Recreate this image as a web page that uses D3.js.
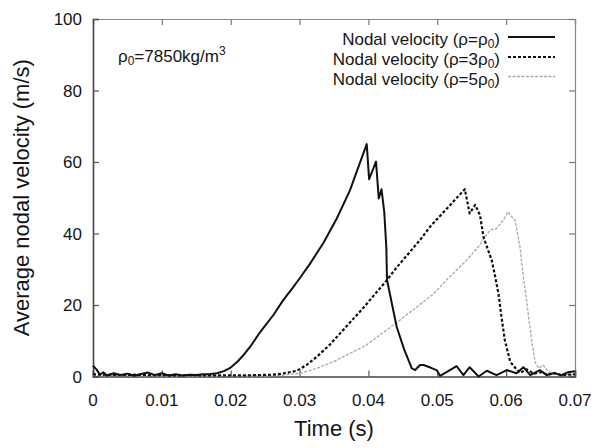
<!DOCTYPE html>
<html><head><meta charset="utf-8">
<script src="https://cdn.jsdelivr.net/npm/d3@7"></script>
<style>
html,body{margin:0;padding:0;background:#fff;}
svg text{font-family:"Liberation Sans",Arial,Helvetica,sans-serif;fill:#151515;}
</style></head>
<body><svg id="chart" width="597" height="448"></svg>
<script>
// ---- data ----
const xTicks = [0, 0.01, 0.02, 0.03, 0.04, 0.05, 0.06, 0.07];
const xTickLabels = ["0", "0.01", "0.02", "0.03", "0.04", "0.05", "0.06", "0.07"];
const yTicks = [0, 20, 40, 60, 80, 100];
const yTickLabels = ["0", "20", "40", "60", "80", "100"];
const seriesNames = ["Nodal velocity (ρ=ρ0)", "Nodal velocity (ρ=3ρ0)", "Nodal velocity (ρ=5ρ0)"];

const t1 = [0, 0.0005, 0.001, 0.0015, 0.002, 0.003, 0.004, 0.005, 0.006, 0.007, 0.008, 0.009, 0.010, 0.011, 0.012, 0.013, 0.014, 0.015, 0.016, 0.017, 0.018, 0.019, 0.020, 0.021, 0.022, 0.023, 0.0243, 0.0262, 0.0276, 0.029, 0.0301, 0.0315, 0.0335, 0.0354, 0.0373, 0.03975, 0.0401, 0.0411, 0.0415, 0.0419, 0.0423, 0.0426, 0.0427, 0.0441, 0.0452, 0.0463, 0.0468, 0.0475, 0.048, 0.049, 0.0499, 0.0504, 0.0514, 0.0528, 0.0538, 0.0547, 0.056, 0.0572, 0.0586, 0.0601, 0.0615, 0.0625, 0.0635, 0.0649, 0.0659, 0.067, 0.068, 0.069, 0.07];
const v1 = [3.0, 2.0, 0.5, 1.2, 0.3, 0.9, 0.4, 0.8, 0.2, 0.7, 1.1, 0.4, 0.9, 0.3, 0.6, 0.3, 0.5, 0.4, 0.6, 0.7, 0.9, 1.5, 2.5, 4.2, 6.3, 8.8, 12.5, 17.2, 21.3, 24.8, 27.7, 31.5, 37.5, 44.2, 52.0, 65.0, 55.2, 60.1, 49.8, 52.4, 46.0, 36.0, 27.0, 13.9, 7.5, 2.3, 1.8, 3.2, 3.2, 2.5, 1.8, 0.2, 1.3, 2.9, 0.4, 2.6, 0.0, 1.6, 0.4, 1.8, 0.9, 2.6, 0.4, 1.8, 0.4, 1.0, 0.3, 1.2, 1.5];

const t2 = [0, 0.002, 0.004, 0.006, 0.008, 0.010, 0.012, 0.014, 0.016, 0.018, 0.020, 0.022, 0.024, 0.026, 0.0275, 0.0296, 0.031, 0.0325, 0.0345, 0.0359, 0.0393, 0.0427, 0.0441, 0.0475, 0.049, 0.0515, 0.054, 0.0547, 0.0555, 0.0562, 0.0567, 0.0572, 0.0579, 0.0584, 0.0589, 0.0593, 0.0598, 0.0606, 0.0615, 0.062, 0.063, 0.064, 0.065, 0.066, 0.067, 0.068, 0.07];
const v2 = [0.6, 0.5, 0.4, 0.5, 0.4, 0.4, 0.3, 0.4, 0.3, 0.3, 0.3, 0.3, 0.4, 0.5, 0.8, 1.6, 3.2, 5.5, 9.1, 12.1, 19.3, 27.0, 30.5, 38.2, 42.0, 47.2, 52.4, 45.6, 48.0, 45.2, 39.1, 36.3, 32.6, 28.0, 23.0, 17.0, 10.2, 4.1, 2.0, 1.0, 2.0, 0.8, 1.2, 0.5, 0.9, 0.4, 0.6];

const t3 = [0, 0.005, 0.010, 0.015, 0.020, 0.025, 0.027, 0.0301, 0.0325, 0.0349, 0.0397, 0.0446, 0.0494, 0.0518, 0.054, 0.0562, 0.0567, 0.0577, 0.0586, 0.0595, 0.0603, 0.0608, 0.0613, 0.062, 0.0625, 0.0632, 0.0637, 0.0642, 0.0647, 0.0654, 0.0661, 0.067, 0.068, 0.07];
const v3 = [0.3, 0.3, 0.2, 0.2, 0.2, 0.2, 0.3, 0.9, 2.3, 4.1, 8.8, 15.8, 23.0, 27.9, 32.0, 36.8, 38.5, 41.0, 41.4, 43.5, 46.1, 44.7, 43.8, 36.3, 27.9, 17.7, 10.2, 4.1, 2.3, 3.2, 1.3, 0.8, 0.6, 0.5];

// ---- layout ----
const svg = d3.select("#chart");
const L = 93, R = 575, T = 19, B = 376.5;
const x = d3.scaleLinear().domain([0, 0.07]).range([L, R]);
const y = d3.scaleLinear().domain([0, 100]).range([B, T]);

// mirrored inward ticks
const tickLen = 6;
const gTop = svg.append("g").attr("transform", `translate(0,${T})`)
  .call(d3.axisBottom(x).tickValues(xTicks).tickSize(tickLen).tickFormat(""));
const gRight = svg.append("g").attr("transform", `translate(${R},0)`)
  .call(d3.axisLeft(y).tickValues(yTicks).tickSize(tickLen).tickFormat(""));
[gTop, gRight].forEach(g => { g.select(".domain").attr("stroke", "#888").attr("stroke-width", 1.2); g.selectAll(".tick line").attr("stroke", "#777").attr("stroke-width", 1.2); });

const gBottom = svg.append("g").attr("transform", `translate(0,${B})`)
  .call(d3.axisTop(x).tickValues(xTicks).tickSize(tickLen).tickFormat(""));
const gLeft = svg.append("g").attr("transform", `translate(${L},0)`)
  .call(d3.axisRight(y).tickValues(yTicks).tickSize(tickLen).tickFormat(""));
[gBottom, gLeft].forEach(g => { g.select(".domain").attr("stroke", "#444").attr("stroke-width", 1.6); g.selectAll(".tick line").attr("stroke", "#555").attr("stroke-width", 1.2); });

// tick labels
svg.append("g").selectAll("text").data(xTicks).join("text")
  .attr("x", d => x(d)).attr("y", 406).attr("text-anchor", "middle")
  .attr("font-size", 17).text((d, i) => xTickLabels[i]);
svg.append("g").selectAll("text").data(yTicks).join("text")
  .attr("x", 82).attr("y", d => y(d) + 6).attr("text-anchor", "end")
  .attr("font-size", 17).text((d, i) => yTickLabels[i]);

// axis titles
svg.append("text").attr("x", (L + R) / 2).attr("y", 436).attr("text-anchor", "middle")
  .attr("font-size", 22).text("Time (s)");
svg.append("text").attr("transform", `translate(29,${(T + B) / 2}) rotate(-90)`)
  .attr("text-anchor", "middle").attr("font-size", 22).text("Average nodal velocity (m/s)");

// lines
const line = d3.line().x(d => x(d[0])).y(d => y(d[1]));
const styles = [
  { stroke: "#111", width: 2, dash: null },
  { stroke: "#111", width: 2.2, dash: "3,2" },
  { stroke: "#a8a8a8", width: 1.3, dash: "3,1.5" }
];
const data = [d3.zip(t1, v1), d3.zip(t2, v2), d3.zip(t3, v3)];
[2, 1, 0].forEach(i => {
  svg.append("path").datum(data[i]).attr("d", line).attr("fill", "none")
    .attr("stroke", styles[i].stroke).attr("stroke-width", styles[i].width)
    .attr("stroke-dasharray", styles[i].dash).attr("stroke-linejoin", "round");
});

// legend
const legY = [45, 65, 84.5];
seriesNames.forEach((name, i) => {
  const m = name.match(/^(.*\(ρ=\d*ρ)0\)$/);
  const tx = svg.append("text").attr("x", 500).attr("y", legY[i]).attr("text-anchor", "end").attr("font-size", 17);
  tx.append("tspan").text(m[1]);
  tx.append("tspan").attr("font-size", 12).attr("dy", 3).text("0");
  tx.append("tspan").attr("dy", -3).text(")");
  svg.append("line").attr("x1", 508).attr("x2", 555).attr("y1", legY[i] - 8).attr("y2", legY[i] - 8)
    .attr("stroke", styles[i].stroke).attr("stroke-width", styles[i].width).attr("stroke-dasharray", styles[i].dash);
});

// annotation
const ann = svg.append("text").attr("x", 118).attr("y", 62).attr("font-size", 17);
ann.append("tspan").text("ρ");
ann.append("tspan").attr("font-size", 12).attr("dy", 3).text("0");
ann.append("tspan").attr("dy", -3).text("=7850kg/m");
ann.append("tspan").attr("font-size", 12).attr("dy", -7).text("3");
</script></body></html>
